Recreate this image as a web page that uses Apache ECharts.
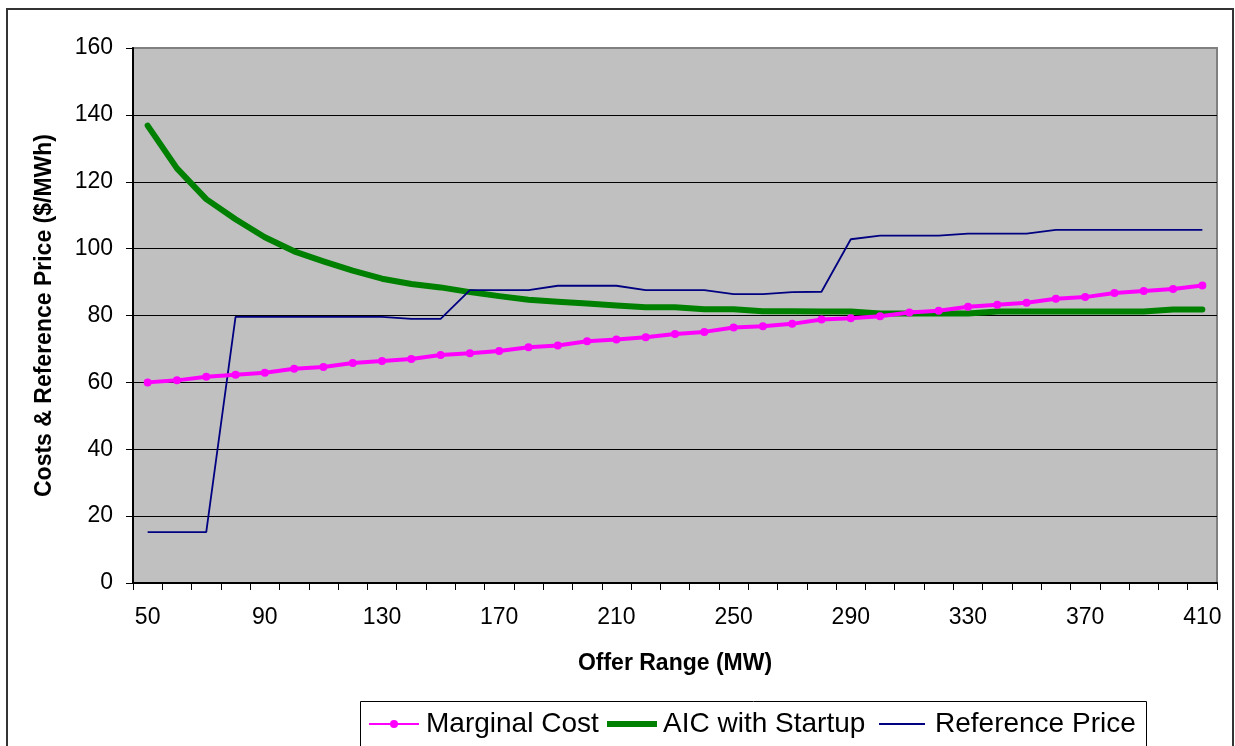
<!DOCTYPE html>
<html>
<head>
<meta charset="utf-8">
<script src="https://cdn.jsdelivr.net/npm/echarts@6/dist/echarts.min.js"></script>
<style>
html,body{margin:0;padding:0;background:#ffffff;}
#chart{width:1235px;height:746px;}
</style>
</head>
<body>
<div id="chart"></div>
<script>
// ---- data ----
const categories = ['50','60','70','80','90','100','110','120','130','140','150','160','170','180','190','200','210','220','230','240','250','260','270','280','290','300','310','320','330','340','350','360','370','380','390','400','410'];
const marginalCost = [60.0,60.6,61.7,62.3,62.9,64.1,64.6,65.8,66.4,67.0,68.2,68.7,69.4,70.5,71.0,72.3,72.8,73.5,74.5,75.1,76.4,76.8,77.5,78.8,79.2,79.8,80.9,81.4,82.6,83.2,83.8,85.0,85.5,86.7,87.3,87.9,89.0];
const aicWithStartup = [136.8,124.0,114.8,108.8,103.4,99.2,96.2,93.4,91.0,89.4,88.4,87.0,85.8,84.7,84.1,83.6,83.0,82.5,82.5,81.9,81.9,81.3,81.3,81.2,81.2,80.6,80.6,80.6,80.6,81.2,81.2,81.2,81.2,81.2,81.2,81.8,81.8];
const referencePrice = [15.2,15.2,15.2,79.6,79.6,79.6,79.6,79.6,79.6,79.0,79.0,87.6,87.6,87.6,88.9,88.9,88.9,87.6,87.6,87.6,86.4,86.4,87.0,87.1,102.8,103.9,103.9,103.9,104.5,104.5,104.5,105.6,105.6,105.6,105.6,105.6,105.6];
const yMin = 0, yMax = 160, yStep = 20;
const seriesNames = ['Marginal Cost','AIC with Startup','Reference Price'];
const xAxisTitle = 'Offer Range (MW)';
const yAxisTitle = 'Costs & Reference Price ($/MWh)';

const FONT = '"Liberation Sans", Arial, sans-serif';
const chart = echarts.init(document.getElementById('chart'), null, {renderer:'canvas'});

const gridColors = [];
for (let v = yMin; v <= yMax; v += yStep) gridColors.push(v === yMax ? '#808080' : '#000000');

const legendBase = {
  orient: 'horizontal',
  top: 710,
  padding: 0,
  selectedMode: false,
  textStyle: {fontFamily: FONT, fontSize: 28, color: '#000', lineHeight: 28}
};

const option = {
  backgroundColor: '#ffffff',
  animation: false,
  textStyle: {fontFamily: FONT},
  graphic: [
    {type:'rect', z:-10, silent:true, shape:{x:7, y:9, width:1226, height:800}, style:{fill:'none', stroke:'#333333', lineWidth:2}},
    {type:'rect', z:-5, silent:true, shape:{x:360.5, y:701.5, width:786, height:100}, style:{fill:'#ffffff', stroke:'#000000', lineWidth:1}}
  ],
  grid: {
    left: 133, right: 18, top: 48, bottom: 163,
    show: true, backgroundColor: '#C0C0C0', borderColor: '#808080', borderWidth: 2,
    containLabel: false
  },
  legend: [
    Object.assign({}, legendBase, {left: 368, itemWidth: 50, itemHeight: 10, data: [{name: seriesNames[0]}], textStyle: Object.assign({}, legendBase.textStyle, {padding:[0,0,0,2]})}),
    Object.assign({}, legendBase, {left: 607, itemWidth: 50, itemHeight: 6, data: [{name: seriesNames[1], icon: 'rect'}], textStyle: Object.assign({}, legendBase.textStyle, {padding:[0,0,0,1]})}),
    Object.assign({}, legendBase, {left: 879, itemWidth: 46, itemHeight: 2, data: [{name: seriesNames[2], icon: 'rect'}], textStyle: Object.assign({}, legendBase.textStyle, {padding:[0,0,0,5]})})
  ],
  xAxis: {
    type: 'category',
    data: categories,
    boundaryGap: true,
    name: xAxisTitle,
    nameLocation: 'middle',
    nameGap: 69,
    nameTextStyle: {fontFamily: FONT, fontSize: 23, fontWeight: 'bold', color: '#000'},
    axisLine: {show: true, lineStyle: {color: '#000', width: 2}},
    axisTick: {show: true, inside: false, length: 7, interval: 0, alignWithLabel: false, lineStyle: {color: '#000', width: 1}},
    axisLabel: {interval: 3, margin: 23, fontFamily: FONT, fontSize: 23, color: '#000'},
    splitLine: {show: false}
  },
  yAxis: {
    type: 'value',
    min: yMin, max: yMax, interval: yStep,
    name: yAxisTitle,
    nameLocation: 'middle',
    nameRotate: 90,
    nameGap: 77,
    nameTextStyle: {fontFamily: FONT, fontSize: 23, fontWeight: 'bold', color: '#000'},
    axisLine: {show: true, lineStyle: {color: '#000', width: 2}},
    axisTick: {show: true, inside: false, length: 7, lineStyle: {color: '#000', width: 1}},
    axisLabel: {margin: 20, fontFamily: FONT, fontSize: 23, color: '#000'},
    splitLine: {show: true, lineStyle: {color: gridColors, width: 1}}
  },
  series: [
    {
      name: seriesNames[1], type: 'line', data: aicWithStartup, z: 2,
      symbol: 'none', showSymbol: false,
      lineStyle: {color: '#008000', width: 6, cap: 'round', join: 'round'},
      itemStyle: {color: '#008000'}
    },
    {
      name: seriesNames[2], type: 'line', data: referencePrice, z: 3,
      symbol: 'none', showSymbol: false,
      lineStyle: {color: '#000080', width: 1.8},
      itemStyle: {color: '#000080'}
    },
    {
      name: seriesNames[0], type: 'line', data: marginalCost, z: 4,
      symbol: 'circle', symbolSize: 8, showSymbol: true,
      lineStyle: {color: '#FF00FF', width: 4, join: 'round'},
      itemStyle: {color: '#FF00FF'}
    }
  ]
};
chart.setOption(option);
</script>
</body>
</html>
